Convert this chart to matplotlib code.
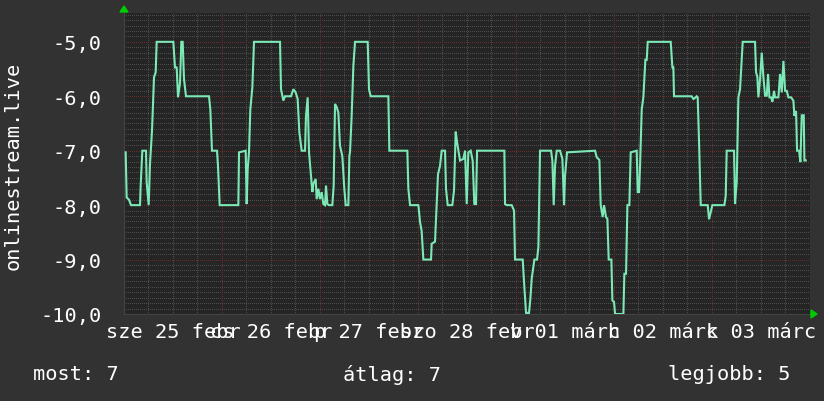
import matplotlib
matplotlib.use("Agg")
import matplotlib.pyplot as plt
import numpy as np

# hours since 25 Feb 00:00
hours = [0.41, 0.65, 1.22, 1.71, 3.92, 4.08, 4.49, 5.39, 5.55, 6.04, 6.37, 6.86, 7.35, 7.76, 8.0,
         12.08, 12.49, 12.9, 13.23, 13.72, 14.04, 14.37, 14.7, 15.18, 20.82, 21.14, 21.55, 22.78,
         23.02, 23.43, 28.0, 28.17, 29.8, 30.04, 30.29, 30.61, 30.94, 31.43, 31.84, 38.21, 38.45,
         39.02, 39.43, 40.9, 41.47, 42.04, 42.53, 42.94, 43.51, 44.33, 44.57, 44.98, 45.31, 45.8,
         46.13, 46.37, 46.94, 47.19, 47.6, 48.0, 48.41, 48.82, 49.23, 49.47, 49.8, 50.21, 51.02,
         51.35, 51.68, 52.09, 52.49, 52.9, 53.47, 53.96, 54.29, 54.94, 55.19, 55.35, 55.76, 56.17,
         56.58, 59.68, 60.0, 60.41, 64.74, 64.98, 69.39, 69.64, 70.05, 72.09, 72.5, 72.9, 73.31,
         75.19, 75.35, 76.17, 76.58, 76.9, 77.39, 77.8, 78.62, 78.86, 79.27, 80.41, 80.82, 81.23,
         81.64, 82.29, 83.11, 83.52, 83.93, 84.33, 84.9, 85.39, 85.8, 86.21, 86.46, 93.15, 93.31,
         93.72, 94.95, 95.52, 95.76, 97.64, 98.05, 98.46, 99.19, 99.52, 99.85, 100.5, 101.15,
         101.48, 101.89, 104.58, 104.91, 105.24, 105.56, 105.97, 106.79, 107.36, 107.76, 108.01,
         108.5, 115.36, 115.76, 116.42, 116.74, 117.23, 117.56, 118.05, 118.38, 118.7, 119.36,
         119.6, 120.01, 120.26, 122.3, 122.54, 122.95, 123.28, 123.76, 124.09, 125.56, 125.81,
         126.13, 126.38, 126.79, 127.19, 127.68, 128.01, 128.26, 133.89, 134.3, 134.54, 134.7,
         139.03, 139.44, 139.85, 140.25, 140.5, 140.83, 141.24, 142.95, 143.28, 143.69, 144.09,
         147.03, 147.36, 147.6, 149.4, 149.64, 150.05, 150.46, 150.87, 151.52, 154.54, 154.79,
         155.11, 155.36, 155.77, 156.18, 156.59, 157.0, 157.41, 157.73, 158.06, 158.47, 158.79,
         159.2, 159.44, 160.26, 160.67, 161.08, 161.49, 161.9, 162.31, 162.71, 163.37, 163.93,
         164.18, 164.59, 164.83, 165.32, 165.65, 165.98, 166.47, 166.63, 166.96]

values = [-7.03, -7.86, -7.9, -8.0, -8.0, -7.64, -7.0, -7.0, -7.58, -8.0, -7.24, -6.63, -5.65, -5.56, -5.0,
          -5.0, -5.47, -5.47, -6.02, -5.75, -5.0, -5.0, -5.69, -6.0, -6.0, -6.24, -7.0, -7.0,
          -7.28, -8.0, -8.0, -7.03, -7.0, -7.98, -7.34, -7.03, -6.24, -5.84, -5.0, -5.0, -5.87,
          -6.08, -6.0, -6.0, -5.87, -5.93, -6.05, -6.66, -7.0, -7.0, -6.36, -6.02, -7.03, -7.46,
          -7.76, -7.61, -7.52, -7.89, -7.7, -7.89, -7.76, -7.98, -8.0, -7.64, -7.98, -8.0, -8.0,
          -7.64, -6.14, -6.2, -6.3, -6.91, -7.1, -7.7, -8.0, -8.0, -7.09, -7.03, -6.35, -5.44,
          -5.0, -5.0, -5.87, -6.0, -6.0, -7.0, -7.0, -7.7, -8.0, -8.0, -8.31, -8.48, -9.0,
          -9.0, -8.71, -8.67, -7.95, -7.43, -7.28, -7.0, -7.0, -7.7, -8.0, -8.0, -7.73, -6.65,
          -6.88, -7.18, -7.15, -7.0, -7.98, -7.03, -7.0, -7.18, -7.98, -7.98, -7.0, -7.0, -7.98,
          -8.0, -8.0, -8.1, -9.0, -9.0, -9.51, -9.98, -9.98, -9.72, -9.35, -9.0, -9.0,
          -8.77, -7.0, -7.0, -7.18, -8.0, -7.28, -7.0, -7.0, -7.15, -8.0, -7.46,
          -7.03, -7.0, -7.12, -7.17, -8.0, -8.22, -8.0, -8.22, -8.25, -9.0, -9.0,
          -9.75, -9.78, -10.0, -10.0, -9.26, -9.26, -8.0, -8.0, -7.03, -7.0, -7.76,
          -7.76, -7.28, -6.24, -6.02, -5.33, -5.33, -5.0, -5.0, -5.47, -5.47, -6.0,
          -6.0, -6.05, -6.03, -6.0, -6.02, -6.85, -8.0, -8.0, -8.26, -8.13, -8.0,
          -8.0, -7.83, -7.0, -7.0, -7.98, -7.58, -6.02, -5.87, -5.0, -5.0, -5.56,
          -5.65, -6.02, -5.69, -5.2, -5.65, -5.99, -5.99, -5.59, -6.02, -6.02, -6.1,
          -5.9, -6.02, -6.02, -5.59, -5.93, -5.35, -5.9, -5.9, -6.02, -6.02, -6.08,
          -6.36, -6.27, -7.0, -7.0, -7.21, -6.35, -6.35, -7.18, -7.18]

day_labels = ["sze 25 febr", "cs 26 febr", "p 27 febr", "szo 28 febr",
              "v 01 márc", "h 02 márc", "k 03 márc"]
y_ticks = [-10, -9, -8, -7, -6, -5]
y_tick_labels = ["-10,0", "-9,0", "-8,0", "-7,0", "-6,0", "-5,0"]
y_title = "onlinestream.live"
legend_items = ["most: 7", "átlag: 7", "legjobb: 5"]

BG = "#323232"
PLOT_BG = "#252525"
LINE = "#7be8b5"
FG = "#ffffff"
MINOR = "#4c4c4c"
MAJOR = "#6a2c2c"
FONT = "DejaVu Sans Mono"
FS = 14.6

W, H = 824, 402
fig = plt.figure(figsize=(W / 100, H / 100), dpi=100, facecolor=BG)
L, R, T, B = 124, 810, 14, 315
ax = fig.add_axes([L / W, 1 - B / H, (R - L) / W, (B - T) / H])
ax.set_facecolor(PLOT_BG)
ax.set_xlim(0, 168)
ax.set_ylim(-10, -4.47)

dot = (0, (1, 2))
gkw = dict(lw=0.72, ls=dot, antialiased=False)
for yv in np.arange(-10, -4.47, 0.1):
    if abs(yv - round(yv)) > 1e-6:
        ax.axhline(yv, color=MINOR, zorder=1, **gkw)
for xv in range(6, 168, 6):
    if xv % 24:
        ax.axvline(xv, color=MINOR, zorder=1, **gkw)
for yv in y_ticks[1:]:
    ax.axhline(yv, color=MAJOR, zorder=2, **gkw)
for xv in range(24, 168, 24):
    ax.axvline(xv, color=MAJOR, zorder=2, **gkw)

ax.plot(hours, values, color=LINE, lw=1.5, zorder=5, solid_joinstyle="miter")

for s in ax.spines.values():
    s.set_visible(False)
ax.spines["left"].set_visible(True)
ax.spines["bottom"].set_visible(True)
ax.spines["left"].set_color("#444444")
ax.spines["bottom"].set_color("#444444")
ax.spines["left"].set_linewidth(0.8)
ax.spines["bottom"].set_linewidth(0.8)
ax.set_yticks(y_ticks)
ax.set_yticklabels(y_tick_labels, family=FONT, fontsize=FS, color=FG)
ax.set_xticks([12 + 24 * i for i in range(len(day_labels))])
ax.set_xticklabels(day_labels, family=FONT, fontsize=FS, color=FG)
ax.tick_params(axis="both", length=0)
ax.tick_params(axis="x", pad=6)
ax.tick_params(axis="y", pad=16)

fig.text(13 / W, 1 - 166 / H, y_title, rotation=90, ha="center", va="center",
         family=FONT, fontsize=FS, color=FG)

fig.text(33 / W, 1 - 375 / H, legend_items[0], ha="left", va="center", family=FONT, fontsize=FS, color=FG)
fig.text(392 / W, 1 - 375 / H, legend_items[1], ha="center", va="center", family=FONT, fontsize=FS, color=FG)
fig.text(791 / W, 1 - 375 / H, legend_items[2], ha="right", va="center", family=FONT, fontsize=FS, color=FG)

# axis arrows
fig.patches.append(plt.Polygon([[(L - 4) / W, 1 - 13 / H], [(L + 4) / W, 1 - 13 / H], [L / W, 1 - 7 / H]],
                               closed=True, color="#00cc00", transform=fig.transFigure))
fig.patches.append(plt.Polygon([[(R + 1) / W, 1 - (B - 4) / H], [(R + 1) / W, 1 - (B + 4) / H], [(R + 7) / W, 1 - B / H]],
                               closed=True, color="#00cc00", transform=fig.transFigure))

fig.savefig("out.png", dpi=100, facecolor=BG)
